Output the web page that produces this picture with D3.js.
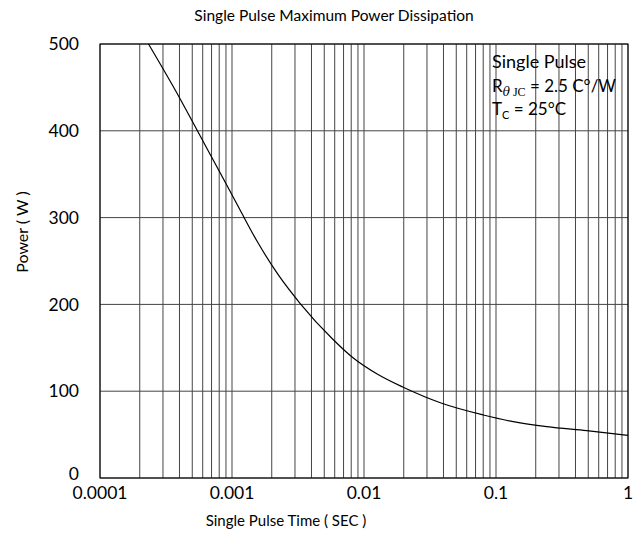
<!DOCTYPE html>
<html>
<head>
  <meta charset="utf-8">
  <title>Single Pulse Maximum Power Dissipation</title>
  <style>
    body { margin: 0; background: #fff; }
    svg { display: block; font-family: Lato, "Open Sans", sans-serif; }
    .grid line { stroke: #444; stroke-width: 1px; }
    .tick-label { font-size: 17.5px; fill: #000; }
  </style>
</head>
<body>
  <div id="chart"></div>

  <script src="https://d3js.org/d3.v7.min.js"></script>
  <script>
    // pulse time (s) and power (W)
    const pulseTime = [0.000233, 0.000404, 0.000572, 0.000811, 0.001149, 0.001538,
                       0.002231, 0.003274, 0.005854, 0.0083, 0.01277,
                       0.01964, 0.03879, 0.0801, 0.1352, 0.2421, 0.4865, 1];
    const pulsePower = [500, 437, 394.5, 352, 309, 273.6,
                        234.5, 201.3, 159.3, 138.2, 119.2,
                        104.8, 86.1, 72.6, 64.9, 59.1, 54.5, 49.2];

    const xTicks = [0.0001, 0.001, 0.01, 0.1, 1];
    const xTickLabels = ["0.0001", "0.001", "0.01", "0.1", "1"];
    const yTicks = [0, 100, 200, 300, 400, 500];

    const width = 643, height = 533;
    const plotLeft = 100, plotRight = 628, plotTop = 44, plotBottom = 478;

    const x = d3.scaleLog().domain([0.0001, 1]).range([plotLeft, plotRight]);
    const y = d3.scaleLinear().domain([0, 500]).range([plotBottom, plotTop]);

    const svg = d3.select("#chart").append("svg")
      .attr("width", width)
      .attr("height", height);

    // vertical grid: every 1..9 of each decade
    svg.append("g").attr("class", "grid")
      .selectAll("line")
      .data(x.ticks())
      .join("line")
      .attr("x1", d => x(d)).attr("x2", d => x(d))
      .attr("y1", plotTop).attr("y2", plotBottom);

    // horizontal grid
    svg.append("g").attr("class", "grid")
      .selectAll("line")
      .data(yTicks)
      .join("line")
      .attr("x1", plotLeft).attr("x2", plotRight)
      .attr("y1", d => y(d)).attr("y2", d => y(d));

    // frame
    svg.append("rect")
      .attr("x", plotLeft).attr("y", plotTop)
      .attr("width", plotRight - plotLeft).attr("height", plotBottom - plotTop)
      .attr("fill", "none").attr("stroke", "#000");

    // curve
    const line = d3.line()
      .x((d, i) => x(pulseTime[i]))
      .y(d => y(d))
      .curve(d3.curveMonotoneX);

    svg.append("path")
      .attr("d", line(pulsePower))
      .attr("fill", "none")
      .attr("stroke", "#000")
      .attr("stroke-width", 1.2);

    // y tick labels
    svg.append("g")
      .selectAll("text")
      .data(yTicks)
      .join("text")
      .attr("class", "tick-label")
      .attr("x", 79)
      .attr("y", d => y(d))
      .attr("dy", d => d === 0 ? "0.1em" : "0.35em")
      .attr("text-anchor", "end")
      .text(d => d);

    // x tick labels
    svg.append("g")
      .selectAll("text")
      .data(xTicks)
      .join("text")
      .attr("class", "tick-label")
      .attr("x", d => x(d))
      .attr("y", 499)
      .attr("text-anchor", "middle")
      .text((d, i) => xTickLabels[i]);

    // titles
    svg.append("text")
      .attr("x", 334).attr("y", 21)
      .attr("text-anchor", "middle")
      .style("font-size", "15.5px")
      .text("Single Pulse Maximum Power Dissipation");

    svg.append("text")
      .attr("x", 286).attr("y", 526)
      .attr("text-anchor", "middle")
      .style("font-size", "15px")
      .text("Single Pulse Time ( SEC )");

    svg.append("text")
      .attr("transform", "translate(28,232) rotate(-90)")
      .attr("text-anchor", "middle")
      .style("font-size", "16px")
      .text("Power ( W )");

    // annotation
    const note = svg.append("g").style("font-size", "17px");
    note.append("text").attr("x", 492).attr("y", 68)
      .style("font-size", "18px").text("Single Pulse");

    const r = note.append("text").attr("x", 492).attr("y", 92);
    r.append("tspan").text("R");
    r.append("tspan").attr("dy", 4).style("font-size", "12px")
      .style("font-family", "'DejaVu Serif', serif")
      .style("font-style", "italic").text("θ");
    r.append("tspan").style("font-size", "12px")
      .style("font-family", "'Liberation Serif', serif").text(" JC");
    r.append("tspan").attr("dy", -4).text(" = 2.5 C°/W");

    const tc = note.append("text").attr("x", 492).attr("y", 115);
    tc.append("tspan").text("T");
    tc.append("tspan").attr("dy", 4).style("font-size", "11px").text("C");
    tc.append("tspan").attr("dy", -4).text(" = 25°C");
  </script>
</body>
</html>
